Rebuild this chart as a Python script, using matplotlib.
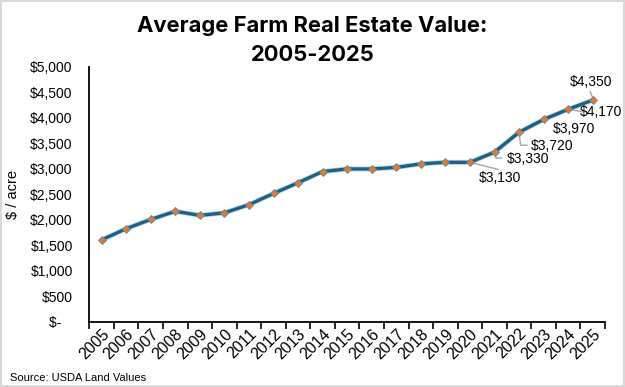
import matplotlib
matplotlib.use("Agg")
import matplotlib.pyplot as plt
from matplotlib.patches import Rectangle
from matplotlib.ticker import FuncFormatter, MultipleLocator

years = [str(y) for y in range(2005, 2026)]
values = [1610, 1830, 2010, 2170, 2090, 2140, 2300, 2520, 2730, 2950, 3000,
          3000, 3030, 3100, 3130, 3130, 3330, 3720, 3970, 4170, 4350]
labelled_years = ["2020", "2021", "2022", "2023", "2024", "2025"]

LINE = "#1C6185"
DOT = "#E8772E"
GREY = "#A6A6A6"

plt.rcParams["font.family"] = ["Liberation Sans", "DejaVu Sans"]

fig = plt.figure(figsize=(6.25, 3.87), dpi=100)
fig.patch.set_facecolor("white")
ax = fig.add_axes([0.143, 0.168, 0.825, 0.659])

x = list(range(len(years)))
ax.plot(x, values, color="#6FA3BD", lw=3.6, alpha=0.45, solid_capstyle="round", zorder=2)
ax.plot(x, values, color=LINE, lw=2.4, solid_joinstyle="round", zorder=3,
        marker="D", markersize=4.2, markerfacecolor=DOT, markeredgecolor="#5E88A0",
        markeredgewidth=0.6)

ax.set_xlim(-0.5, len(years) - 0.5)
ax.set_ylim(0, 5000)
ax.yaxis.set_major_locator(MultipleLocator(500))
ax.yaxis.set_major_formatter(FuncFormatter(lambda v, p: "$-   " if v == 0 else f"${v:,.0f}"))
ax.set_xticks([i + 0.5 for i in range(-1, len(years))], minor=False)
ax.set_xticklabels([])
ax.set_xticks(x, minor=True)
ax.set_xticklabels(years, minor=True, rotation=45, ha="right", rotation_mode="anchor",
                   fontsize=11.5)
ax.tick_params(axis="x", which="major", length=5, direction="out", width=1.2)
ax.tick_params(axis="x", which="minor", length=0, pad=3)
ax.tick_params(axis="y", length=0, labelsize=10, pad=12)
ax.spines["top"].set_visible(False)
ax.spines["right"].set_visible(False)
ax.spines["left"].set_linewidth(1.3)
ax.spines["bottom"].set_linewidth(1.3)
ax.set_ylabel("$ / acre", fontsize=10.5)
ax.yaxis.set_label_coords(-0.134, 0.5)

# data labels: offsets in pixels from the point, leader polyline in pixels
label_offsets = {
    "2020": (30, -16, [(0, 0), (28, -7)]),
    "2021": (34, -7, [(0, 0), (1.5, -6), (7, -6)]),
    "2022": (33, -14, [(0, 0), (1.5, -13), (8, -13)]),
    "2023": (30, -10, None),
    "2024": (33, -3, [(0, 0), (14, -2.5)]),
    "2025": (-2, 18, [(0, 2), (-2.5, 8.5)]),
}
fig.canvas.draw()
to_data = ax.transData.inverted()
for yr in labelled_years:
    i = years.index(yr)
    v = values[i]
    dx, dy, leader = label_offsets[yr]
    ax.annotate(f"${v:,}", xy=(i, v), xytext=(dx, dy), textcoords="offset pixels",
                ha="center", va="center", fontsize=10, zorder=5)
    if leader:
        px, py = ax.transData.transform((i, v))
        pts = to_data.transform([(px + ox, py + oy) for ox, oy in leader])
        ax.plot(pts[:, 0], pts[:, 1], color=GREY, lw=1.0, zorder=1)

fig.text(0.5, 0.933, "Average Farm Real Estate Value:", ha="center", va="center",
         fontsize=15.8, fontweight="bold", family=["Inter", "DejaVu Sans"])
fig.text(0.5, 0.858, "2005-2025", ha="center", va="center",
         fontsize=15.8, fontweight="bold", family=["Inter", "DejaVu Sans"])
fig.text(0.016, 0.022, "Source: USDA Land Values", ha="left", va="center",
         fontsize=8, family=["Liberation Sans Narrow", "Liberation Sans", "DejaVu Sans"])

fig.add_artist(Rectangle((0.002, 0.003), 0.996, 0.994, transform=fig.transFigure,
                         fill=False, edgecolor="#D9D9D9", lw=1.5))

fig.savefig("out.png", dpi=100, facecolor="white")
